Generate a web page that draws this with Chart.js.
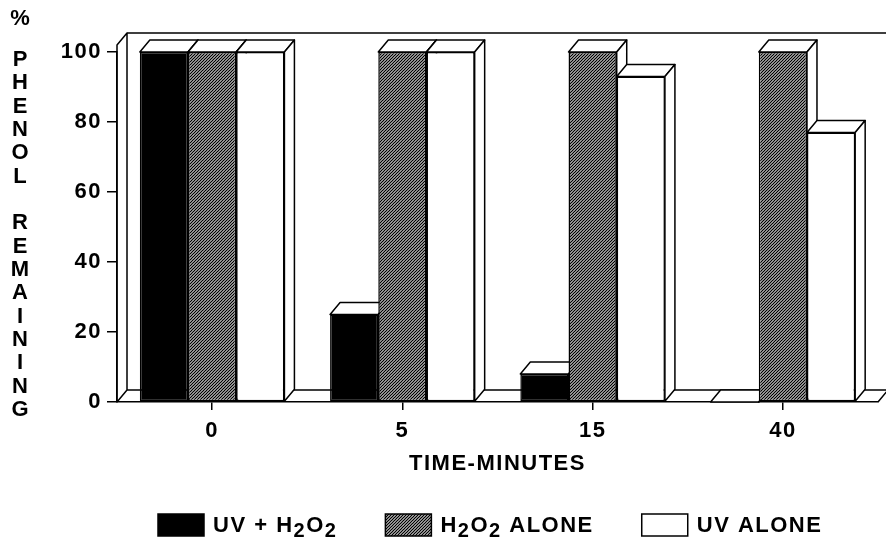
<!DOCTYPE html>
<html>
<head>
<meta charset="utf-8">
<script src="https://cdn.jsdelivr.net/npm/chart.js@4/dist/chart.umd.min.js"></script>
<style>
  html, body { margin: 0; padding: 0; background: #fff; }
  #wrap { width: 886px; height: 542px; }
</style>
</head>
<body>
<div id="wrap"><canvas id="c" width="886" height="542"></canvas></div>
<script>
// Phenol remaining (%) after irradiation / peroxide treatment
const timeLabels   = ['0', '5', '15', '40'];
const uvPlusH2O2   = [100, 25, 8, 0];
const h2o2Alone    = [100, 100, 100, 100];
const uvAlone      = [100, 100, 93, 77];
const seriesNames  = ['UV + H₂O₂', 'H₂O₂ ALONE', 'UV ALONE'];
const yTickValues  = [0, 20, 40, 60, 80, 100];
const xTitle       = 'TIME-MINUTES';
const yTitleTop    = '%';
const yTitleWords  = ['PHENOL', 'REMAINING'];

const FONT = '"Liberation Sans", Arial, Helvetica, sans-serif';
const FSIZE = 22;
const TRACK = '1.5px';
const DX = 10, DY = 12;      // oblique depth of the 3-D blocks
const BOX_TOP = 102;         // height of the open box, in axis units

function hatchPattern() {
  const c = document.createElement('canvas');
  c.width = 3; c.height = 3;
  const g = c.getContext('2d');
  g.fillStyle = '#fff';
  g.fillRect(0, 0, 3, 3);
  g.strokeStyle = '#000';
  g.lineWidth = 1.25;
  g.beginPath();
  g.moveTo(-1, 4); g.lineTo(4, -1);
  g.moveTo(-1, 1); g.lineTo(1, -1);
  g.moveTo(2, 4); g.lineTo(4, 2);
  g.stroke();
  return g.createPattern(c, 'repeat');
}
const HATCH = hatchPattern();

function poly(ctx, pts, fill) {
  ctx.beginPath();
  ctx.moveTo(pts[0][0], pts[0][1]);
  for (let i = 1; i < pts.length; i++) ctx.lineTo(pts[i][0], pts[i][1]);
  ctx.closePath();
  ctx.fillStyle = fill;
  ctx.fill();
  ctx.stroke();
}

// draws a label, turning subscript digits into lowered digits
const SUBS = '₀₁₂₃₄₅₆₇₈₉';
function richText(ctx, text, x, y) {
  let cx = x;
  for (const ch of text) {
    const k = SUBS.indexOf(ch);
    if (k >= 0) {
      ctx.font = 'bold ' + Math.round(FSIZE * 0.9) + 'px ' + FONT;
      ctx.fillText(String(k), cx, y + 5);
      cx += ctx.measureText(String(k)).width;
      ctx.font = 'bold ' + FSIZE + 'px ' + FONT;
    } else {
      ctx.fillText(ch, cx, y);
      cx += ctx.measureText(ch).width;
    }
  }
  return cx - x;
}

// letter spacing for all text drawn on the canvas
const tracking = {
  id: 'tracking',
  beforeUpdate(chart) { chart.ctx.letterSpacing = TRACK; },
  beforeDraw(chart) { chart.ctx.letterSpacing = TRACK; }
};

// open box (left wall, back edge, floor) plus blocks drawn back-to-front
const blocks3d = {
  id: 'blocks3d',
  beforeDatasetsDraw(chart) {
    const { ctx, chartArea: a, scales: { y } } = chart;
    const base = y.getPixelForValue(0);
    const top = y.getPixelForValue(BOX_TOP);
    ctx.save();
    ctx.strokeStyle = '#000';
    ctx.lineWidth = 1.5;
    ctx.lineJoin = 'round';
    ctx.beginPath();
    ctx.moveTo(a.left, base); ctx.lineTo(a.left, top);
    ctx.lineTo(a.left + DX, top - DY); ctx.lineTo(a.left + DX, base - DY);
    ctx.lineTo(a.left, base);
    ctx.moveTo(a.left + DX, top - DY); ctx.lineTo(chart.width, top - DY);
    ctx.moveTo(a.left + DX, base - DY); ctx.lineTo(a.right + DX, base - DY);
    ctx.lineTo(a.right, base);
    ctx.stroke();

    const metas = chart.getSortedVisibleDatasetMetas();
    const n = chart.data.labels.length;
    for (let i = 0; i < n; i++) {
      metas.forEach(meta => {
        const el = meta.data[i];
        if (!el) return;
        el.draw(ctx, a);
        const l = el.x - el.width / 2, r = el.x + el.width / 2;
        const t = Math.min(el.y, el.base), b = Math.max(el.y, el.base);
        ctx.strokeStyle = '#000';
        ctx.lineWidth = 1.5;
        poly(ctx, [[l, t], [l + DX, t - DY], [r + DX, t - DY], [r, t]], '#fff');
        poly(ctx, [[r, t], [r + DX, t - DY], [r + DX, b - DY], [r, b]], '#fff');
      });
    }
    ctx.restore();
    return false;
  }
};

// stacked vertical axis caption and the key under the plot
const captions = {
  id: 'captions',
  afterDraw(chart) {
    const ctx = chart.ctx;
    ctx.save();
    ctx.letterSpacing = '0px';
    ctx.fillStyle = '#000';
    ctx.font = 'bold ' + FSIZE + 'px ' + FONT;
    ctx.textAlign = 'center';
    ctx.textBaseline = 'middle';
    const cx = 20, step = 23.33, first = 60;
    ctx.fillText(yTitleTop, cx, 19);
    const column = yTitleWords[0].split('').concat([''], yTitleWords[1].split(''));
    column.forEach((ch, i) => { if (ch) ctx.fillText(ch, cx, first + i * step); });

    // key
    ctx.letterSpacing = TRACK;
    ctx.textAlign = 'left';
    ctx.lineWidth = 1.5;
    ctx.strokeStyle = '#000';
    const bw = 46, bh = 22, top = 514;
    let x = 158;
    chart.data.datasets.forEach(ds => {
      ctx.fillStyle = ds.backgroundColor;
      ctx.fillRect(x, top, bw, bh);
      ctx.strokeRect(x, top, bw, bh);
      ctx.fillStyle = '#000';
      const w = richText(ctx, ds.label, x + bw + 9, top + bh / 2 + 1);
      x += bw + 9 + w + 48;
    });
    ctx.restore();
  }
};

const baseBar = { borderColor: '#000', borderWidth: 1.5, borderSkipped: false };
const tickFont = { family: FONT, size: FSIZE, weight: 'bold', lineHeight: '22px' };

new Chart(document.getElementById('c'), {
  type: 'bar',
  data: {
    labels: timeLabels,
    datasets: [
      Object.assign({ label: seriesNames[0], data: uvPlusH2O2, backgroundColor: '#000' }, baseBar),
      Object.assign({ label: seriesNames[1], data: h2o2Alone, backgroundColor: HATCH }, baseBar),
      Object.assign({ label: seriesNames[2], data: uvAlone, backgroundColor: '#fff' }, baseBar)
    ]
  },
  options: {
    responsive: false,
    animation: false,
    devicePixelRatio: 1,
    layout: { padding: { left: 0, top: 52, right: 8, bottom: 67 } },
    datasets: { bar: { categoryPercentage: 0.76, barPercentage: 1.0 } },
    plugins: {
      legend: { display: false },
      tooltip: { enabled: false }
    },
    scales: {
      x: {
        grid: { display: true, drawOnChartArea: false, offset: false, tickLength: 8, color: '#000', lineWidth: 1.5 },
        border: { display: true, color: '#000', width: 1.5 },
        ticks: { color: '#000', font: tickFont, padding: 10 },
        title: { display: true, text: xTitle, color: '#000', padding: { top: 0, bottom: 0 }, font: tickFont },
        afterFit(s) { s.height = 73; }
      },
      y: {
        min: 0, max: 100,
        afterBuildTicks(s) { s.ticks = yTickValues.map(v => ({ value: v })); },
        grid: { display: true, drawOnChartArea: false, tickLength: 10, color: '#000', lineWidth: 1.5 },
        border: { display: true, color: '#000', width: 1.5 },
        ticks: { color: '#000', font: tickFont, padding: 5 },
        afterFit(s) { s.width = 117; }
      }
    }
  },
  plugins: [tracking, blocks3d, captions]
});
</script>
</body>
</html>
